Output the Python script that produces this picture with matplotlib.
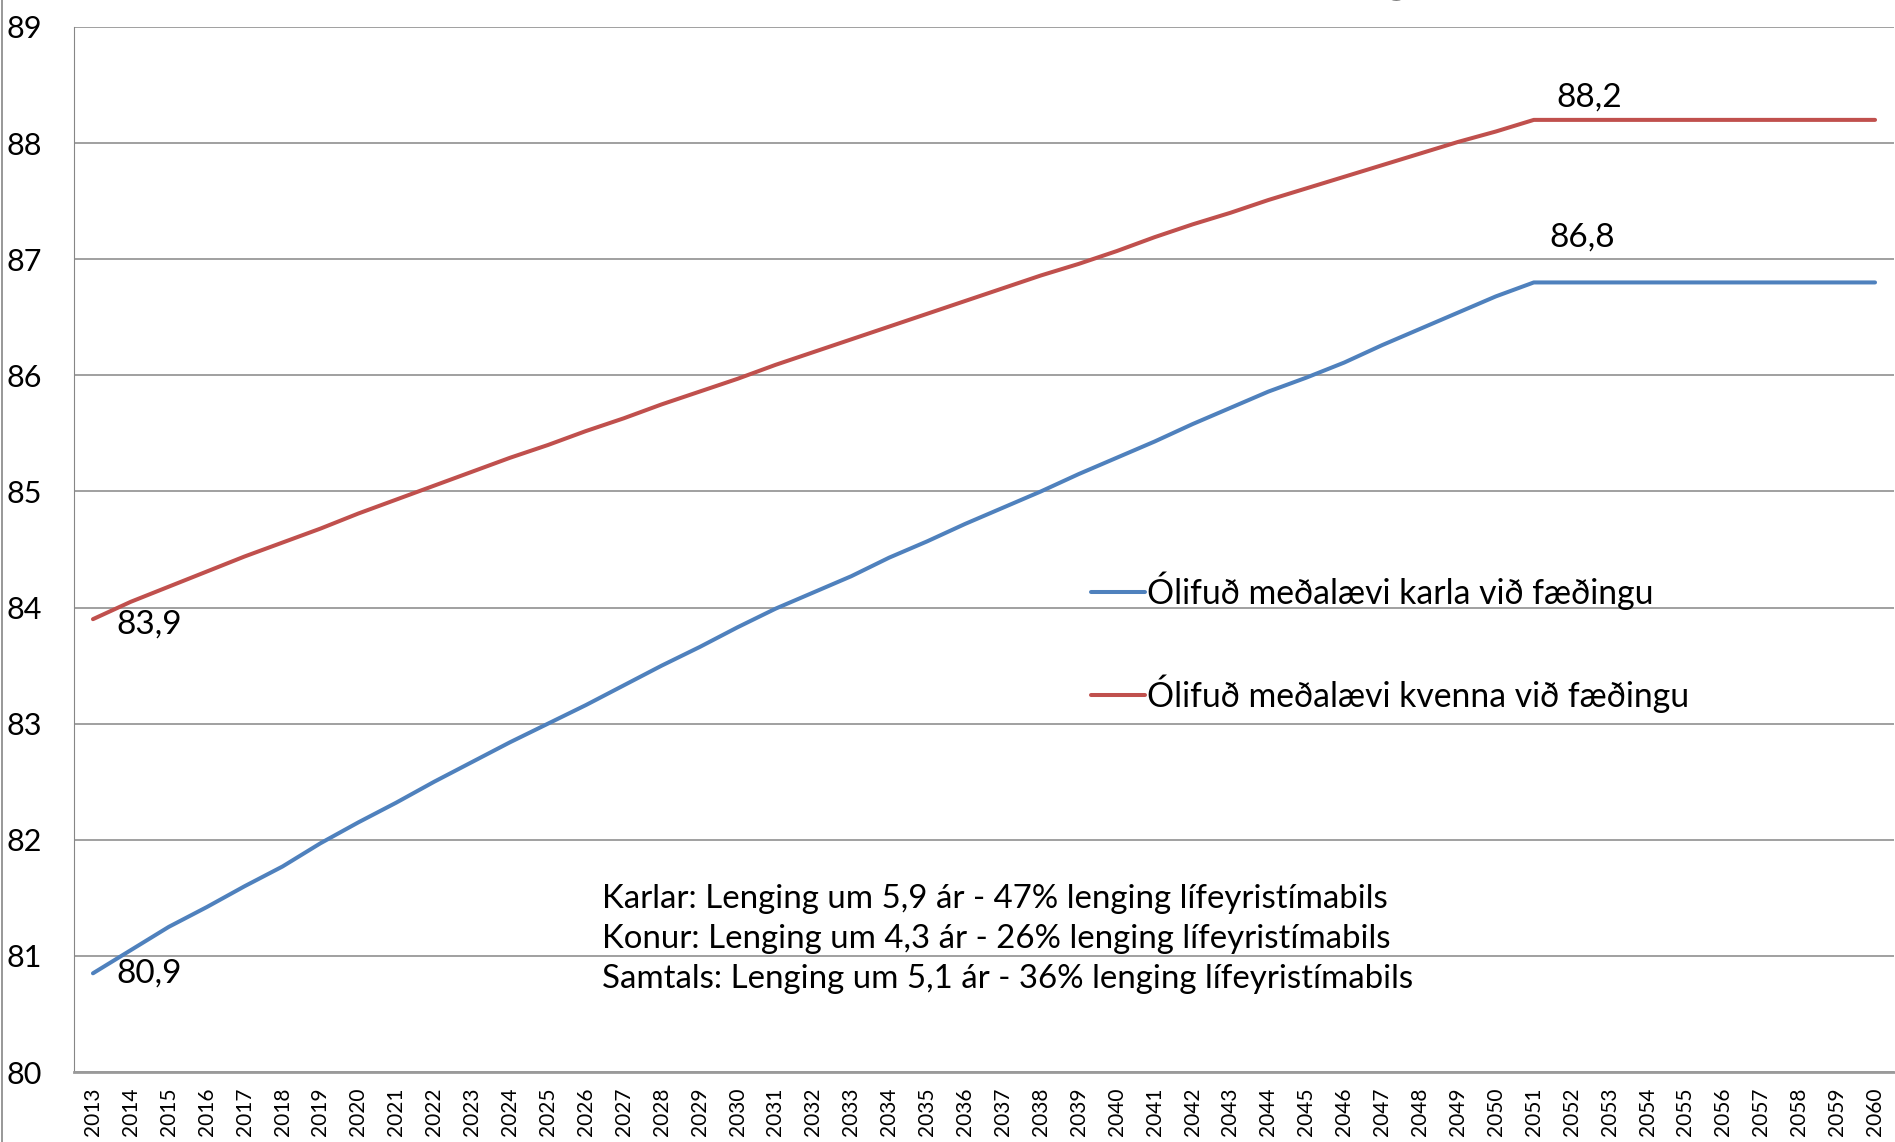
import matplotlib
matplotlib.use("Agg")
import matplotlib.pyplot as plt
from matplotlib.lines import Line2D

plt.rcParams['font.family'] = ['Lato', 'DejaVu Sans']

years = list(range(2013, 2061))

karlar = [80.85, 81.05, 81.25, 81.42, 81.60, 81.77, 81.97, 82.15, 82.32, 82.50,
          82.67, 82.84, 83.00, 83.16, 83.33, 83.50, 83.66, 83.83, 83.99, 84.13,
          84.27, 84.43, 84.57, 84.72, 84.86, 85.00, 85.15, 85.29, 85.43, 85.58,
          85.72, 85.86, 85.98, 86.11, 86.26, 86.40, 86.54, 86.68, 86.80]
karlar += [86.80] * (len(years) - len(karlar))

konur = [83.90, 84.05, 84.18, 84.31, 84.44, 84.56, 84.68, 84.81, 84.93, 85.05,
         85.17, 85.29, 85.40, 85.52, 85.63, 85.75, 85.86, 85.97, 86.09, 86.20,
         86.31, 86.42, 86.53, 86.64, 86.75, 86.86, 86.96, 87.07, 87.19, 87.30,
         87.40, 87.51, 87.61, 87.71, 87.81, 87.91, 88.01, 88.10, 88.20]
konur += [88.20] * (len(years) - len(konur))

labels = ["Ólifuð meðalævi karla við fæðingu", "Ólifuð meðalævi kvenna við fæðingu"]
notes = ["Karlar: Lenging um 5,9 ár - 47% lenging lífeyristímabils",
         "Konur: Lenging um 4,3 ár - 26% lenging lífeyristímabils",
         "Samtals: Lenging um 5,1 ár - 36% lenging lífeyristímabils"]
title = "Spá um ólifaða meðalævi við fæðingu"

blue = "#4F81BD"
red = "#C0504D"

W, H = 1895, 1142
fig = plt.figure(figsize=(W / 100, H / 100), dpi=100)
ax = fig.add_axes([74 / W, (H - 1072) / H, (1894 - 74) / W, (1072 - 27) / H])

x = list(range(len(years)))
ax.plot(x, karlar, color=blue, lw=2.9, label=labels[0], solid_capstyle='round')
ax.plot(x, konur, color=red, lw=2.9, label=labels[1], solid_capstyle='round')

ax.set_xlim(-0.5, len(years) - 0.5)
ax.set_ylim(80, 89)
ax.set_yticks(range(80, 90))
ax.set_xticks(x)
ax.set_xticklabels([str(y) for y in years], rotation=90, fontsize=15)
ax.tick_params(axis='y', length=0, pad=23, labelsize=22)
ax.tick_params(axis='x', length=0, pad=11)
ax.grid(axis='y', color='#868686', lw=1.1)
ax.set_axisbelow(True)
for s in ['top', 'right']:
    ax.spines[s].set_visible(False)
ax.spines['left'].set_color('#868686')
ax.spines['bottom'].set_color('#9a9a9a')
ax.spines['bottom'].set_linewidth(2)

# data labels
i_end = years.index(2051)
ax.annotate("80,9", (0, karlar[0]), xytext=(17, 0), textcoords='offset points',
            ha='left', va='center', fontsize=24)
ax.annotate("83,9", (0, konur[0]), xytext=(17, -4), textcoords='offset points',
            ha='left', va='center', fontsize=24)
ax.annotate("88,2", (i_end, konur[i_end]), xytext=(16, 16), textcoords='offset points',
            ha='left', va='center', fontsize=24)
ax.annotate("86,8", (i_end, karlar[i_end]), xytext=(11, 32), textcoords='offset points',
            ha='left', va='center', fontsize=24)

fig.legend(loc='center left', bbox_to_anchor=(1091 / W, 1 - 642 / H),
           frameon=False, fontsize=24.3, handlelength=1.6, handletextpad=0.05,
           labelspacing=1.9, borderpad=0, borderaxespad=0)

for k, t in enumerate(notes):
    fig.text(602 / W, 1 - (899 + 40 * k) / H, t, ha='left', va='center', fontsize=23.8)

# title sits above the top edge, only its lower part shows (as in the source)
fig.text(968 / W, 1 + 10 / H, title, ha='center', va='baseline', fontsize=42)

fig.add_artist(Line2D([1.5 / W, 1.5 / W], [0, 1], color='#868686', lw=1.2))

fig.savefig("out.png", dpi=100)
